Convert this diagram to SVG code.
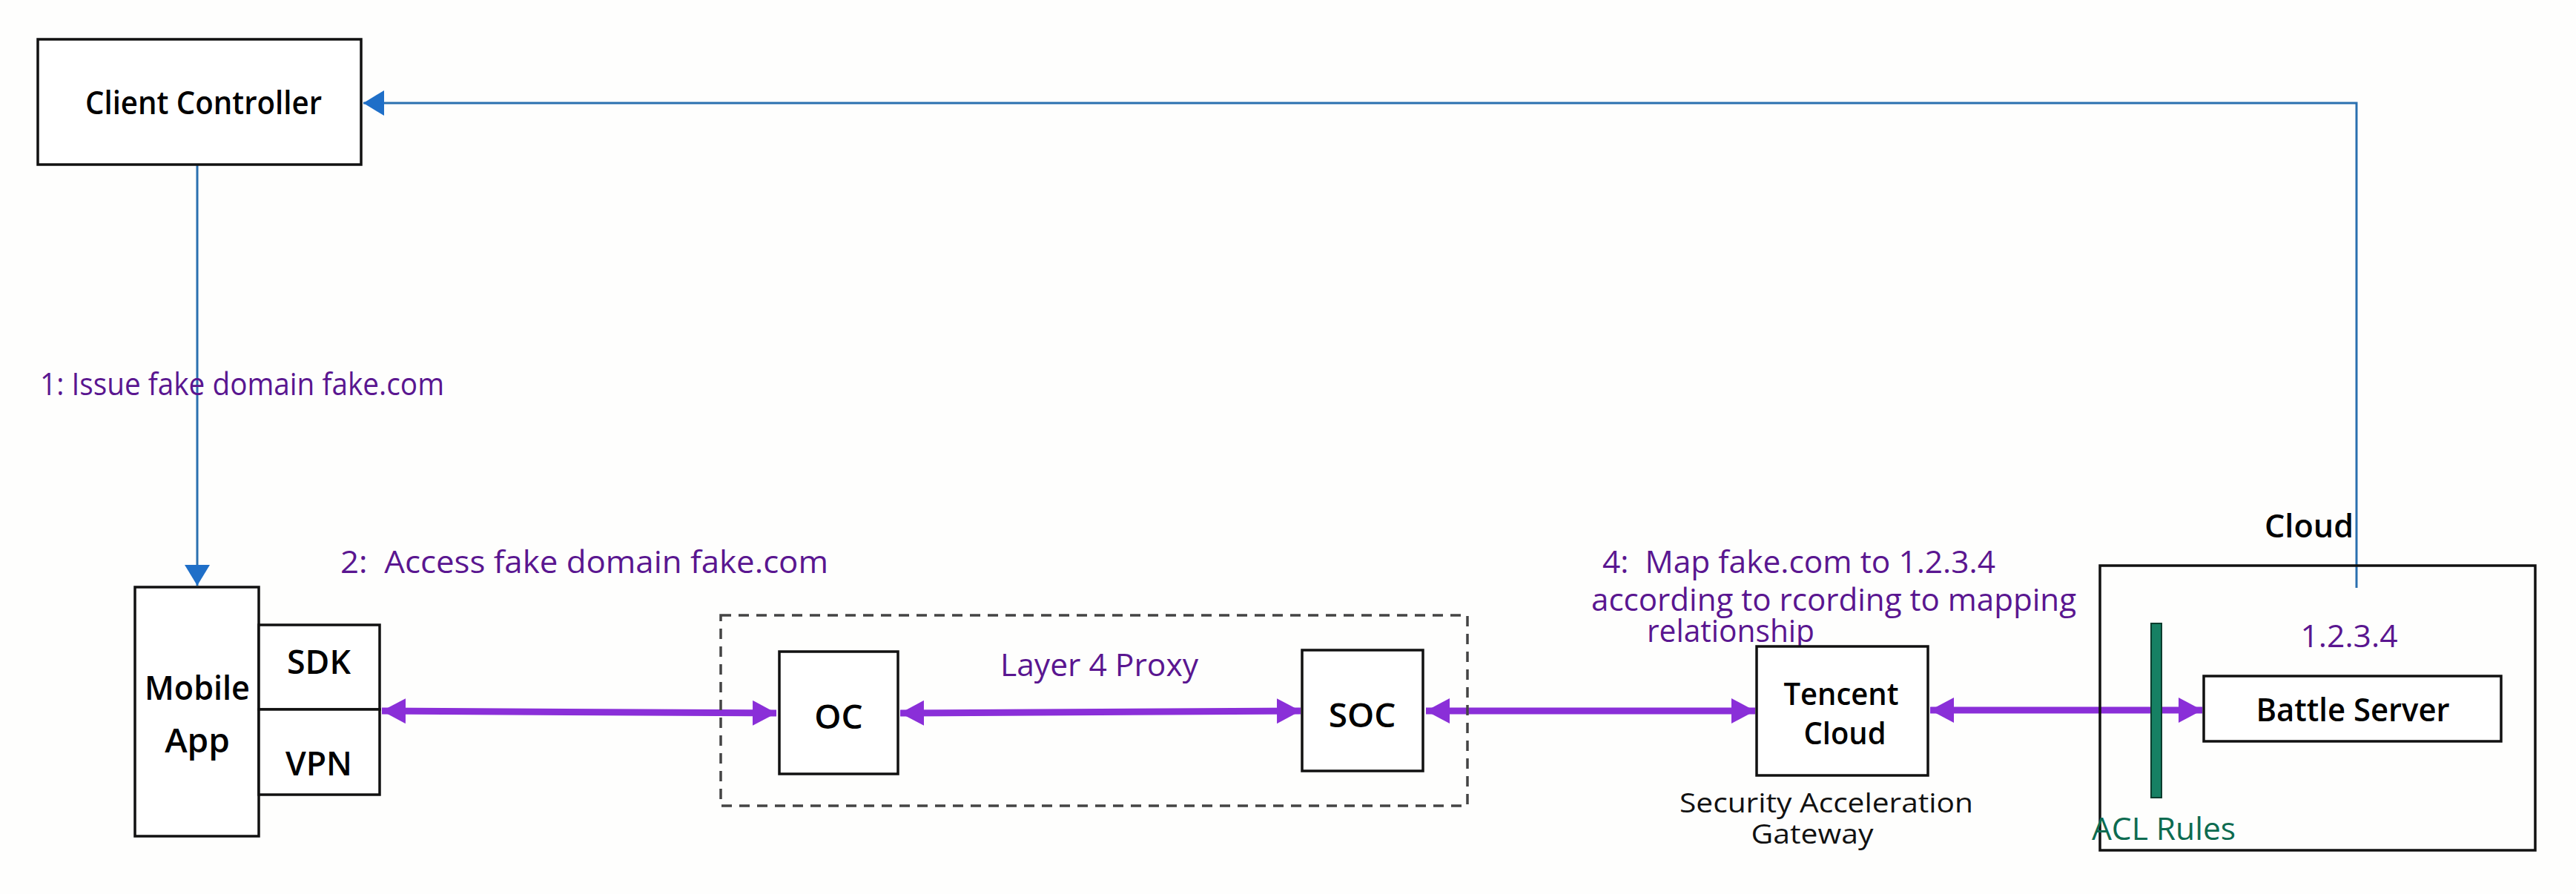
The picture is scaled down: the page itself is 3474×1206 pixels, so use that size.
<svg xmlns="http://www.w3.org/2000/svg" width="3474" height="1206" viewBox="0 0 3474 1206">
<style>
.box{fill:#fff;stroke:#111;stroke-width:3.5}
.lbl{font-family:"Open Sans","Noto Sans",sans-serif;fill:#000;font-weight:600}
.note{font-family:"Open Sans","Noto Sans",sans-serif;fill:#5a1690;font-size:42px;white-space:pre}
.blk{font-family:"Open Sans","Noto Sans",sans-serif;fill:#111;font-size:37px}
.blue{fill:none;stroke:#2a70b0;stroke-width:3}
.purp{fill:none;stroke:#8a2fd8;stroke-width:9}
</style>
<defs>
<marker id="bh" markerUnits="userSpaceOnUse" markerWidth="30" markerHeight="34" refX="28" refY="17" orient="auto">
<path d="M0,0 L28,17 L0,34 Z" fill="#1f6fc8"/>
</marker>
<marker id="ph" markerUnits="userSpaceOnUse" markerWidth="34" markerHeight="34" refX="32" refY="17" orient="auto-start-reverse">
<path d="M0,0 L32,17 L0,34 Z" fill="#8a2fd8"/>
</marker>
</defs>
<rect width="3474" height="1206" fill="#fefefd"/>

<g id="connectors">
<path class="blue" d="M266,222 V790" marker-end="url(#bh)"/>
<path class="blue" d="M3178,793 V139 H490" marker-end="url(#bh)"/>
<path class="purp" d="M515,959 L1047,962" marker-start="url(#ph)" marker-end="url(#ph)"/>
<path class="purp" d="M1214,962 L1754,959" marker-start="url(#ph)" marker-end="url(#ph)"/>
<path class="purp" d="M1923,959 L2367,959" marker-start="url(#ph)" marker-end="url(#ph)"/>
<path class="purp" d="M2603,958 L2970,958" marker-start="url(#ph)" marker-end="url(#ph)"/>
</g>

<g id="client-controller">
<rect class="box" x="51" y="53" width="436" height="169"/>
<text class="lbl" x="115" y="154" font-size="44" textLength="319" lengthAdjust="spacingAndGlyphs">Client Controller</text>
</g>

<g id="label-1">
<text class="note" x="54" y="533" textLength="545" lengthAdjust="spacingAndGlyphs">1: Issue fake domain fake.com</text>
</g>
<g id="label-2">
<text class="note" x="459" y="773" textLength="658" lengthAdjust="spacingAndGlyphs">2:  Access fake domain fake.com</text>
</g>

<g id="mobile-app">
<rect class="box" x="182" y="792" width="167" height="336"/>
<text class="lbl" x="266" y="944" font-size="46" text-anchor="middle" font-weight="500" textLength="142" lengthAdjust="spacingAndGlyphs">Mobile</text>
<text class="lbl" x="266" y="1015" font-size="46" text-anchor="middle" font-weight="500">App</text>
</g>
<g id="sdk">
<rect class="box" x="349" y="843" width="163" height="114"/>
<text class="lbl" x="430" y="909" font-size="46" text-anchor="middle" font-weight="500" textLength="86" lengthAdjust="spacingAndGlyphs">SDK</text>
</g>
<g id="vpn">
<rect class="box" x="349" y="957" width="163" height="115"/>
<text class="lbl" x="430" y="1046" font-size="46" text-anchor="middle" font-weight="500" textLength="90" lengthAdjust="spacingAndGlyphs">VPN</text>
</g>

<g id="layer4-proxy">
<rect x="972" y="830" width="1007" height="257" fill="none" stroke="#444" stroke-width="3.5" stroke-dasharray="14 10"/>
<text class="note" x="1349" y="912" textLength="267" lengthAdjust="spacingAndGlyphs">Layer 4 Proxy</text>
</g>
<g id="oc">
<rect class="box" x="1051" y="879" width="160" height="165"/>
<text class="lbl" x="1131" y="983" font-size="46" text-anchor="middle" font-weight="500">OC</text>
</g>
<g id="soc">
<rect class="box" x="1756" y="877" width="163" height="163"/>
<text class="lbl" x="1837" y="981" font-size="46" text-anchor="middle" font-weight="500">SOC</text>
</g>

<g id="label-4">
<text class="note" x="2161" y="773" textLength="530" lengthAdjust="spacingAndGlyphs">4:  Map fake.com to 1.2.3.4</text>
<text class="note" x="2146" y="824" font-size="40" textLength="654" lengthAdjust="spacingAndGlyphs">according to rcording to mapping</text>
<text class="note" x="2221" y="866" font-size="38" textLength="226" lengthAdjust="spacingAndGlyphs">relationship</text>
</g>

<g id="tencent-cloud">
<rect class="box" x="2369" y="872" width="231" height="174"/>
<text class="lbl" x="2483" y="951" font-size="41" text-anchor="middle" font-weight="500" textLength="155" lengthAdjust="spacingAndGlyphs">Tencent</text>
<text class="lbl" x="2488" y="1004" font-size="41" text-anchor="middle" font-weight="500" textLength="111" lengthAdjust="spacingAndGlyphs">Cloud</text>
<text class="blk" x="2463" y="1096" text-anchor="middle" textLength="396" lengthAdjust="spacingAndGlyphs">Security Acceleration</text>
<text class="blk" x="2444" y="1138" text-anchor="middle" textLength="165" lengthAdjust="spacingAndGlyphs">Gateway</text>
</g>

<g id="cloud">
<rect x="2832" y="763" width="587" height="384" fill="none" stroke="#111" stroke-width="3.5"/>
<text class="lbl" x="3054" y="725" font-size="44" font-weight="700" textLength="120" lengthAdjust="spacingAndGlyphs">Cloud</text>
<text class="note" x="3168" y="873" text-anchor="middle" textLength="131" lengthAdjust="spacingAndGlyphs">1.2.3.4</text>
</g>
<g id="battle-server">
<rect class="box" x="2972" y="912" width="401" height="88"/>
<text class="lbl" x="3173" y="973" font-size="44" font-weight="700" text-anchor="middle" textLength="261" lengthAdjust="spacingAndGlyphs">Battle Server</text>
</g>
<g id="acl-rules">
<rect x="2901" y="841" width="14" height="235" fill="#168063" stroke="#0b3d2e" stroke-width="2"/>
<text x="2821" y="1133" font-family="'Open Sans','Noto Sans',sans-serif" font-size="42" fill="#0d6b50" textLength="194" lengthAdjust="spacingAndGlyphs">ACL Rules</text>
</g>
</svg>
